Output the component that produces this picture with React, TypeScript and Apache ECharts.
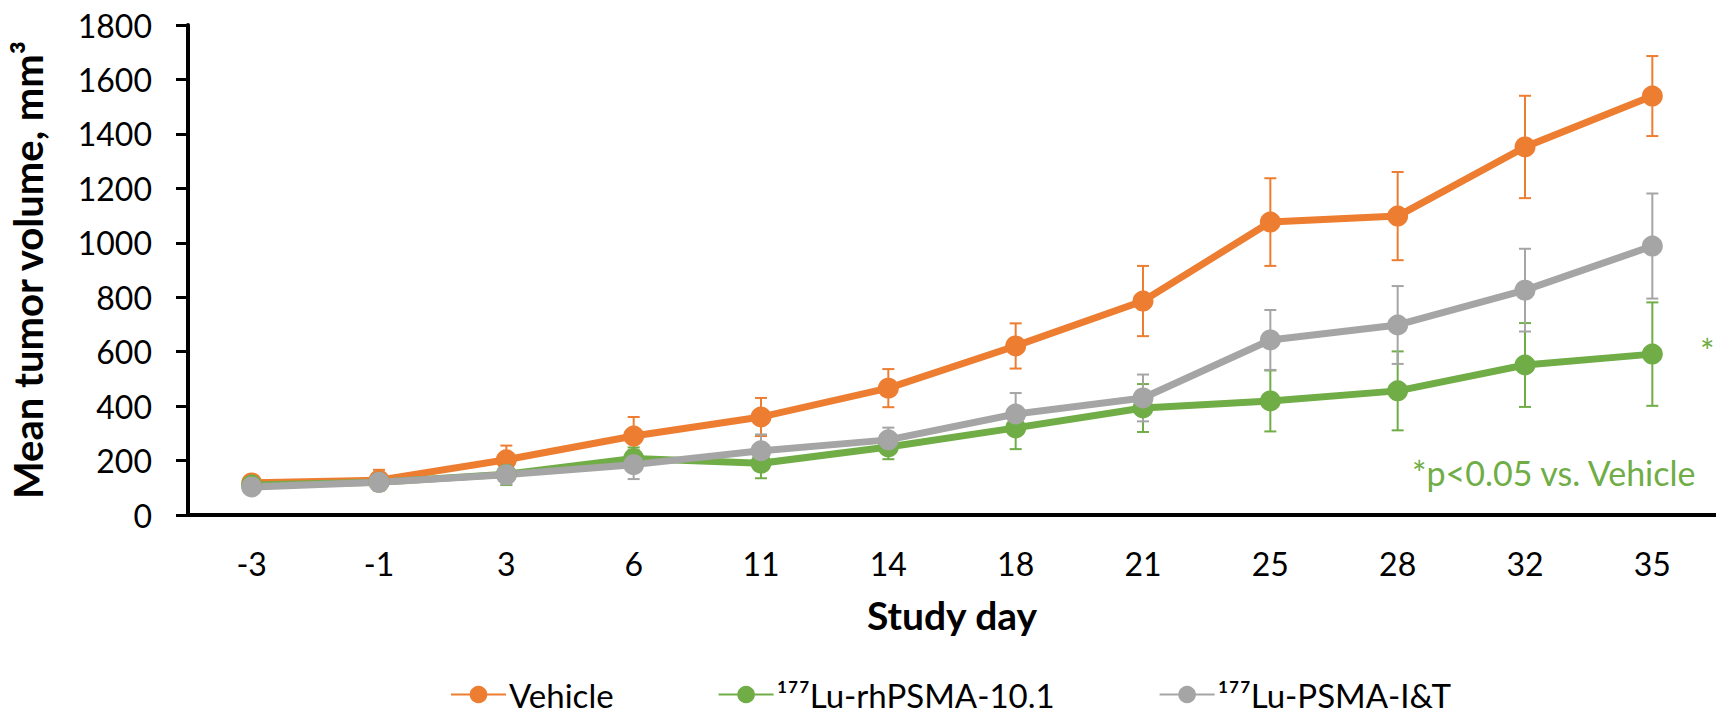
import React, { useEffect, useRef } from "react";
import * as echarts from "echarts";

const days = ["-3", "-1", "3", "6", "11", "14", "18", "21", "25", "28", "32", "35"];
const vehicle = [118, 128, 203, 290, 360, 466, 621, 786, 1076, 1098, 1352, 1539];
const vehicleErr = [12, 38, 52, 70, 70, 70, 83, 129, 161, 162, 188, 147];
const rhPSMA = [110, 120, 150, 208, 190, 250, 320, 393, 419, 456, 551, 591];
const rhPSMAErr = [12, 15, 40, 40, 55, 45, 78, 88, 112, 145, 154, 190];
const psmaIT = [103, 120, 148, 185, 236, 276, 371, 430, 643, 698, 826, 988];
const psmaITErr = [10, 15, 35, 53, 60, 45, 77, 86, 110, 143, 152, 193];
const yTicks = { min: 0, max: 1800, interval: 200 };

const names = ["Vehicle", "\u00B9\u2077\u2077Lu-rhPSMA-10.1", "\u00B9\u2077\u2077Lu-PSMA-I&T"];
const colors = ["#ED7D31", "#70AD47", "#A5A5A5"];
const FONT = "Lato, 'DejaVu Sans', sans-serif";

function errData(vals: number[], errs: number[]) {
  return vals.map((v, i) => [i, v - errs[i], v + errs[i]]);
}

function errSeries(name: string, vals: number[], errs: number[], color: string) {
  return {
    type: "custom",
    name: name + " err",
    data: errData(vals, errs),
    z: 1,
    renderItem: (params: any, api: any) => {
      const x = api.value(0);
      const lo = api.coord([x, api.value(1)]);
      const hi = api.coord([x, api.value(2)]);
      const hw = 6;
      const st = { stroke: color, lineWidth: 2 };
      return {
        type: "group",
        children: [
          { type: "line", shape: { x1: lo[0], y1: lo[1], x2: hi[0], y2: hi[1] }, style: st },
          { type: "line", shape: { x1: lo[0] - hw, y1: lo[1], x2: lo[0] + hw, y2: lo[1] }, style: st },
          { type: "line", shape: { x1: hi[0] - hw, y1: hi[1], x2: hi[0] + hw, y2: hi[1] }, style: st },
        ],
      };
    },
  };
}

function lineSeries(name: string, vals: number[], color: string) {
  return {
    type: "line",
    name,
    data: vals,
    z: 3,
    symbol: "circle",
    symbolSize: 21,
    lineStyle: { color, width: 7 },
    itemStyle: { color },
  };
}

export default function App() {
  const ref = useRef<HTMLDivElement>(null);
  useEffect(() => {
    document.body.style.margin = "0";
    const chart = echarts.init(ref.current!, null, { renderer: "svg" });
    chart.setOption({
      animation: false,
      backgroundColor: "#ffffff",
      textStyle: { fontFamily: FONT },
      grid: { left: 177, top: 25, width: 1555, height: 490 },
      legend: {
        data: names,
        left: 450,
        top: 678,
        padding: 0,
        itemWidth: 55,
        itemHeight: 22,
        itemGap: 104,
        textStyle: {
          fontSize: 33,
          lineHeight: 30,
          color: "#000",
          fontFamily: FONT,
          padding: [0, 0, 0, -2],
        },
      },
      xAxis: {
        type: "category",
        data: days,
        boundaryGap: true,
        axisLine: { lineStyle: { color: "#000", width: 4 } },
        axisTick: { show: false },
        axisLabel: { fontSize: 32, color: "#000", margin: 32, fontFamily: FONT },
        name: "Study day",
        nameLocation: "middle",
        nameGap: 80,
        nameTextStyle: { fontSize: 39, fontWeight: "bold", color: "#000", fontFamily: FONT },
      },
      yAxis: {
        type: "value",
        min: yTicks.min,
        max: yTicks.max,
        interval: yTicks.interval,
        splitLine: { show: false },
        axisLine: { show: true, lineStyle: { color: "#000", width: 4 } },
        axisTick: { show: true, length: 12, lineStyle: { color: "#000", width: 3 } },
        axisLabel: {
          fontSize: 32,
          color: "#000",
          margin: 36,
          fontFamily: FONT,
          formatter: (v: number) => String(v),
        },
        name: "Mean tumor volume, mm\u00B3",
        nameLocation: "middle",
        nameGap: 140,
        nameTextStyle: { fontSize: 40, fontWeight: "bold", color: "#000", fontFamily: FONT },
      },
      graphic: [
        {
          type: "text",
          left: 1412,
          top: 455,
          style: { text: "*p<0.05 vs. Vehicle", fill: "#70AD47", fontSize: 34, fontFamily: FONT },
        },
        {
          type: "text",
          left: 1700,
          top: 333,
          style: { text: "*", fill: "#70AD47", fontSize: 34, fontFamily: FONT },
        },
      ],
      series: [
        errSeries(names[0], vehicle, vehicleErr, colors[0]),
        errSeries(names[1], rhPSMA, rhPSMAErr, colors[1]),
        errSeries(names[2], psmaIT, psmaITErr, colors[2]),
        lineSeries(names[0], vehicle, colors[0]),
        lineSeries(names[1], rhPSMA, colors[1]),
        lineSeries(names[2], psmaIT, colors[2]),
      ],
    });
    return () => chart.dispose();
  }, []);
  return <div ref={ref} style={{ width: 1716, height: 713 }} />;
}
